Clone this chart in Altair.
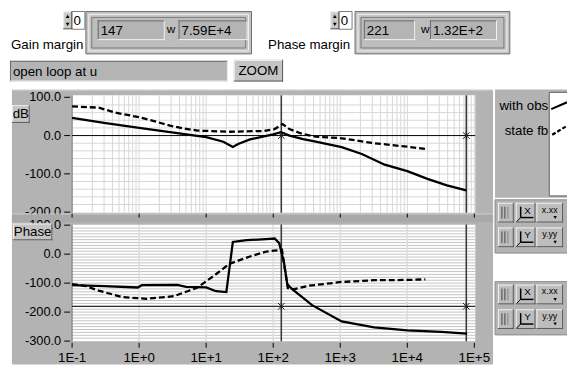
import altair as alt
import pandas as pd

# ---------------- data ----------------
freq_ticks = [0.1, 1, 10, 100, 1000, 10000, 100000]
freq_labels = ["1E-1", "1E+0", "1E+1", "1E+2", "1E+3", "1E+4", "1E+5"]
mag_ticks = [100, 0, -100, -200]
mag_labels = ["100.0", "0.0", "-100.0", "-200.0"]
ph_ticks = [100, 0, -100, -200, -300]
ph_labels = ["100.0", "0.0", "-100.0", "-200.0", "-300.0"]

mag_w_obs = [0.1, 0.3, 1, 2.9, 10, 18, 25, 30, 45, 70, 100, 130, 175, 280, 430, 1050, 2100, 4600, 10000, 20000, 39000, 76000]
mag_obs = [46, 33, 20, 9, -4, -16, -30, -22, -10, -3, 3, 9, 0, -9, -16, -30, -48, -76, -93, -113, -130, -143]

mag_w_sfb = [0.1, 0.25, 0.44, 1, 1.9, 2.9, 4.5, 7.4, 23, 72, 105, 138, 174, 276, 430, 1050, 3200, 10000, 18600]
mag_sfb = [76, 73, 60, 48, 35, 26, 19, 13, 10, 12, 17, 30, 17, 4, -3, -7, -20, -29, -35]

ph_w_obs = [0.1, 0.3, 0.95, 1.1, 3.7, 5, 10, 14, 20, 25, 40, 90, 105, 123, 145, 162, 190, 380, 1050, 3200, 10000, 32000, 78000]
ph_obs = [-107, -110, -115, -107, -106, -113, -115, -128, -131, 42, 48, 53, 54, 38, -30, -103, -120, -176, -232, -253, -263, -268, -274]

ph_w_sfb = [0.1, 0.16, 0.25, 0.56, 1.3, 3.3, 7.2, 13, 22, 45, 79, 135, 165, 204, 340, 1050, 3200, 10000, 18600]
ph_sfb = [-103, -110, -126, -148, -154, -145, -117, -75, -34, -8, 9, 15, -117, -121, -109, -96, -90, -89, -87]

cursor_w = [132, 75900]
cursor_mag = [0, 0]
cursor_ph = [-180, -180]

top_vgrid = [m * 10.0 ** k for k in range(-1, 5) for m in range(1, 10)] + [100000]
top_hgrid = [-180, -160, -140, -120, -100, -80, -60, -40, -20, 20, 40, 60, 80]
bot_vgrid = [1, 10, 100, 1000, 10000]
bot_hgrid = [v for v in range(-290, 100, 10)]

# ---------------- helpers ----------------
FONT = "Liberation Sans"
O = 8
ONE = pd.DataFrame({"k": [0]})
PANEL = "#b3b3b3"

def rect(x1, y1, x2, y2, fill, stroke=None, sw=1):
    kw = dict(fill=fill)
    if stroke:
        kw.update(stroke=stroke, strokeWidth=sw)
    else:
        kw.update(strokeWidth=0)
    return alt.Chart(ONE).mark_rect(**kw).encode(
        x=alt.value(x1 - O), x2=alt.value(x2 - O), y=alt.value(y1 - O), y2=alt.value(y2 - O))

def seg(x1, y1, x2, y2, color, sw=1, dash=None):
    kw = dict(color=color, strokeWidth=sw)
    if dash:
        kw["strokeDash"] = dash
    return alt.Chart(ONE).mark_rule(**kw).encode(
        x=alt.value(x1 - O), y=alt.value(y1 - O), x2=alt.value(x2 - O), y2=alt.value(y2 - O))

def bevel(x1, y1, x2, y2, fill, raised=True):
    lt, dk = ("#f2f2f2", "#5a5a5a") if raised else ("#6a6a6a", "#f2f2f2")
    return [rect(x1, y1, x2, y2, fill),
            seg(x1, y1 + 0.5, x2, y1 + 0.5, lt), seg(x1 + 0.5, y1, x1 + 0.5, y2, lt),
            seg(x1, y2 - 0.5, x2, y2 - 0.5, dk), seg(x2 - 0.5, y1, x2 - 0.5, y2, dk)]

def txt(x, y, s, size=13.5, align="left", baseline="middle", color="black", weight="normal"):
    return alt.Chart(ONE).mark_text(text=s, fontSize=size, align=align, baseline=baseline,
                                    color=color, fontWeight=weight, font=FONT).encode(
        x=alt.value(x - O), y=alt.value(y - O))

def tri(x, y, shape, size=14):
    return alt.Chart(ONE).mark_point(shape=shape, filled=True, size=size, color="black", opacity=1).encode(
        x=alt.value(x - O), y=alt.value(y - O))

xs = alt.Scale(type="log", domain=[0.1, 1e5], range=[73 - O, 481 - O], nice=False)
ym = alt.Scale(domain=[-200, 100], range=[212.5 - O, 96 - O], nice=False, zero=False)
yp = alt.Scale(domain=[-300, 100], range=[343.3 - O, 225.7 - O], nice=False, zero=False)

def X(f="w"):
    return alt.X(f + ":Q", scale=xs, axis=None)

def Y(scale, f="v"):
    return alt.Y(f + ":Q", scale=scale, axis=None)

L = []

# ---------------- header controls ----------------
def spinner(x, y):
    out = bevel(x, y, x + 9, y + 18, "#c8c8c8")
    out += [tri(x + 4.5, y + 5, "triangle-up"), tri(x + 4.5, y + 13, "triangle-down")]
    out += [rect(x + 9, y, x + 22, y + 18, "white", "#7a7a7a"), txt(x + 10.5, y + 9.5, "0")]
    return out

def cluster(x1, x2, v1, v2, wx, b1, b2):
    out = [rect(x1, 9, x2, 52, "#c4c4c4", "#6e6e6e")]
    out += [rect(x1 + 3, 12, x2 - 3, 49, "#c4c4c4", "#f0f0f0")]
    out += [rect(x1 + 6, 15, x2 - 6, 46, "#bdbdbd", "#7a7a7a")]
    out += bevel(b1[0], 18, b1[1], 38, "#b4b4b4", raised=False)
    out += bevel(b2[0], 18, b2[1], 38, "#b4b4b4", raised=False)
    out += [txt(b1[0] + 3, 28.5, v1), txt(wx, 27, "w", size=12), txt(b2[0] + 3, 28.5, v2)]
    return out

L += spinner(64, 9)
L += cluster(87, 255, "147", "7.59E+4", 169, (99, 167), (181, 251))
L.append(txt(11, 43, "Gain margin"))
L += spinner(335, 9)
L += cluster(360, 517, "221", "1.32E+2", 427, (369, 421), (436, 504))
L.append(txt(355, 43, "Phase margin", align="right"))
L += bevel(10, 59, 231, 80, "#b4b4b4", raised=False)
L.append(txt(13, 70, "open loop at u"))
L += bevel(237, 58, 287, 80, "#c4c4c4", raised=True)
L.append(txt(262, 69.5, "ZOOM", align="center"))

# ---------------- panels ----------------
L.append(rect(12, 88, 500, 367, PANEL))
L.append(seg(12, 88.5, 500, 88.5, "#e8e8e8"))
L.append(rect(73, 94, 482, 213, "white"))
L.append(rect(73, 225, 482, 343.5, "white"))

# grids
L.append(alt.Chart(pd.DataFrame({"w": top_vgrid})).mark_rule(color="#d6d6d6", strokeWidth=1).encode(
    x=X(), y=alt.value(94 - O), y2=alt.value(213 - O)))
L.append(alt.Chart(pd.DataFrame({"v": top_hgrid})).mark_rule(color="#d6d6d6", strokeWidth=1).encode(
    y=Y(ym), x=alt.value(73 - O), x2=alt.value(482 - O)))
L.append(alt.Chart(pd.DataFrame({"v": bot_hgrid})).mark_rule(color="#c4c4c4", strokeWidth=1).encode(
    y=Y(yp), x=alt.value(73 - O), x2=alt.value(482 - O)))
L.append(alt.Chart(pd.DataFrame({"w": bot_vgrid})).mark_rule(color="#dcdcdc", strokeWidth=1.5).encode(
    x=X(), y=alt.value(225 - O), y2=alt.value(343.5 - O)))

# plot left edges
L.append(seg(73, 94, 73, 213, "#707070"))
L.append(seg(73, 225, 73, 343.5, "#707070"))

# axes: y ticks and labels (top plot)
L.append(alt.Chart(pd.DataFrame({"v": mag_ticks, "lab": mag_labels})).mark_rule(color="black").encode(
    y=Y(ym), x=alt.value(65 - O), x2=alt.value(71 - O)))
L.append(alt.Chart(pd.DataFrame({"v": mag_ticks, "lab": mag_labels})).mark_text(
    align="right", baseline="middle", fontSize=13, font=FONT, color="black").encode(
    y=Y(ym), x=alt.value(62 - O), text="lab:N"))

# separator strip between the two graphs (covers bottom of top labels, as in LabVIEW)
L.append(seg(12, 214.5, 500, 214.5, "#d8d8d8"))
L.append(rect(12, 215, 500, 223, "#a9a9a9"))
L.append(rect(12, 223, 500, 225, PANEL))

L.append(alt.Chart(pd.DataFrame({"w": freq_ticks})).mark_rule(color="black").encode(
    x=X(), y=alt.value(214 - O), y2=alt.value(218 - O)))

# bottom plot y ticks and labels
L.append(alt.Chart(pd.DataFrame({"v": ph_ticks, "lab": ph_labels})).mark_rule(color="black").encode(
    y=Y(yp), x=alt.value(65 - O), x2=alt.value(71 - O)))
L.append(alt.Chart(pd.DataFrame({"v": ph_ticks, "lab": ph_labels})).mark_text(
    align="right", baseline="middle", fontSize=13, font=FONT, color="black").encode(
    y=Y(yp), x=alt.value(62 - O), text="lab:N"))
# bottom x ticks and labels
L.append(alt.Chart(pd.DataFrame({"w": freq_ticks})).mark_rule(color="black").encode(
    x=X(), y=alt.value(345 - O), y2=alt.value(350 - O)))
L.append(alt.Chart(pd.DataFrame({"w": freq_ticks, "lab": freq_labels})).mark_text(
    align="center", baseline="top", fontSize=13.5, font=FONT, color="black").encode(
    x=X(), y=alt.value(354 - O), text="lab:N"))

# cursors
cur = pd.DataFrame({"w": cursor_w, "m": cursor_mag, "p": cursor_ph})
L.append(alt.Chart(cur).mark_rule(color="#3a3a3a", strokeWidth=1.6).encode(
    x=X(), y=alt.value(94 - O), y2=alt.value(213 - O)))
L.append(alt.Chart(cur).mark_rule(color="#3a3a3a", strokeWidth=1.6).encode(
    x=X(), y=alt.value(225 - O), y2=alt.value(343.5 - O)))
L.append(alt.Chart(cur.iloc[:1]).mark_rule(color="black", strokeWidth=1).encode(
    y=Y(ym, "m"), x=alt.value(73 - O), x2=alt.value(482 - O)))
L.append(alt.Chart(cur.iloc[:1]).mark_rule(color="black", strokeWidth=1).encode(
    y=Y(yp, "p"), x=alt.value(73 - O), x2=alt.value(482 - O)))

# data lines
L.append(alt.Chart(pd.DataFrame({"w": mag_w_sfb, "v": mag_sfb})).mark_line(
    color="black", strokeWidth=2.3, strokeDash=[6, 3]).encode(x=X(), y=Y(ym)))
L.append(alt.Chart(pd.DataFrame({"w": mag_w_obs, "v": mag_obs})).mark_line(
    color="black", strokeWidth=2.3).encode(x=X(), y=Y(ym)))
L.append(alt.Chart(pd.DataFrame({"w": ph_w_sfb, "v": ph_sfb})).mark_line(
    color="black", strokeWidth=2.3, strokeDash=[6, 3]).encode(x=X(), y=Y(yp)))
L.append(alt.Chart(pd.DataFrame({"w": ph_w_obs, "v": ph_obs})).mark_line(
    color="black", strokeWidth=2.3).encode(x=X(), y=Y(yp)))

# cursor markers
XSHAPE = "M-1,-1L1,1M-1,1L1,-1M0,-1.2L0,1.2"
L.append(alt.Chart(cur).mark_point(shape=XSHAPE, size=45, color="#222", strokeWidth=1, filled=False, opacity=1).encode(
    x=X(), y=Y(ym, "m")))
L.append(alt.Chart(cur).mark_point(shape=XSHAPE, size=45, color="#222", strokeWidth=1, filled=False, opacity=1).encode(
    x=X(), y=Y(yp, "p")))

# plot label boxes
L += bevel(12, 104, 30, 122, "#c4c4c4", raised=True)
L.append(txt(21, 113.5, "dB", align="center"))
L += bevel(13, 224, 53, 241, "#c4c4c4", raised=True)
L.append(txt(33, 232.5, "Phase", align="center"))

# ---------------- legend ----------------
L.append(rect(502, 88, 576, 198, PANEL))
L.append(rect(557, 91, 576, 196, "white", "#606060"))
L.append(txt(556, 105, "with obs", align="right"))
L.append(txt(556, 130, "state fb", align="right"))
L.append(seg(559, 108, 575, 101, "black", 2.2))
L.append(seg(560, 134, 575, 125, "black", 2.2, dash=[4, 2]))

# ---------------- scale-control palettes ----------------
def palette(y0):
    out = [rect(502, y0, 576, y0 + 54, PANEL, "#8a8a8a")]
    for r, (ax, fm) in enumerate([("X", "x.xx"), ("Y", "y.yy")]):
        yy = y0 + 3 + r * 25
        out += bevel(505, yy, 521, yy + 20, "#bdbdbd")
        out += [seg(509, yy + 4, 509, yy + 16, "#444"), seg(512, yy + 4, 512, yy + 16, "#444"),
                seg(515, yy + 4, 515, yy + 16, "#888")]
        out += bevel(523, yy, 543, yy + 20, "#bdbdbd")
        out += [seg(528, yy + 4, 528, yy + 15, "black", 1.5), seg(528, yy + 15, 541, yy + 15, "black", 1.5),
                seg(528, yy + 15, 524, yy + 19, "black", 1), txt(535, yy + 8, ax, size=10, align="center")]
        out += bevel(544, yy, 571, yy + 20, "#bdbdbd")
        out += [txt(557.5, yy + 7, fm, size=9, align="center"), tri(563, yy + 15, "triangle-down", 12)]
    return out

L += palette(200)
L += palette(283)

chart = alt.layer(*L).resolve_scale(x="independent", y="independent").properties(
    width=567, height=359, autosize="none", padding=0, background="white"
).configure_view(strokeWidth=0)

chart.save("out.html", embed_options={"renderer": "svg", "actions": False})
